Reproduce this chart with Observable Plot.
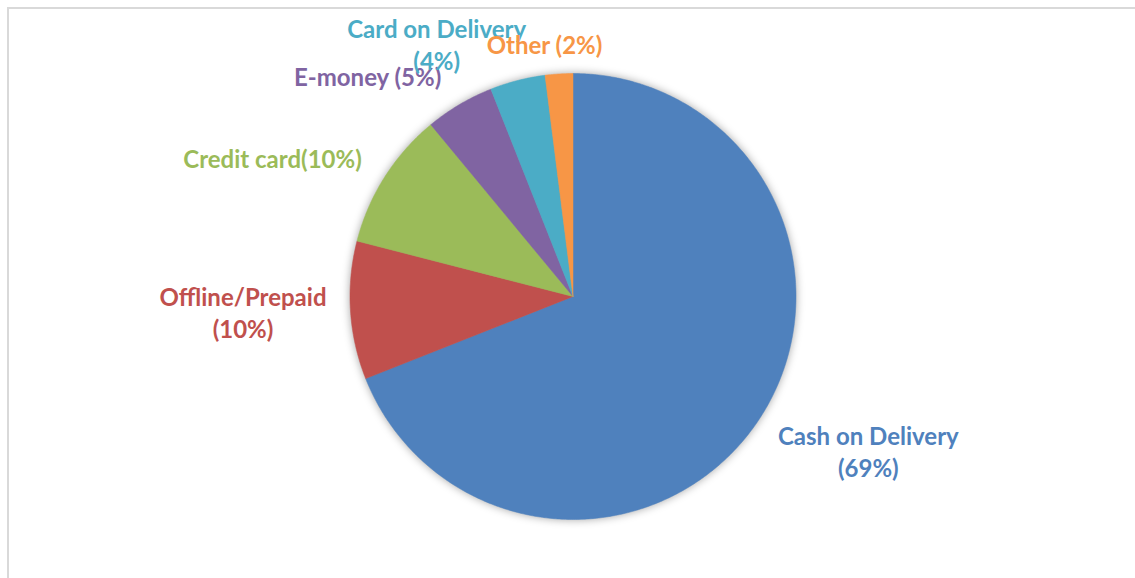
<!DOCTYPE html>
<html>
<head>
<meta charset="utf-8">
<script src="https://cdn.jsdelivr.net/npm/d3@7"></script>
<script src="https://cdn.jsdelivr.net/npm/@observablehq/plot@0.6"></script>
<style>
  html, body { margin: 0; padding: 0; background: #fff; }
  #wrap { position: relative; width: 1135px; height: 578px; overflow: hidden; }
  #border { position: absolute; left: 7px; top: 7px; width: 1140px; height: 580px;
            border-top: 2px solid #d9d9d9; border-left: 2px solid #d9d9d9; pointer-events: none; }
</style>
</head>
<body>
<div id="wrap"><div id="border"></div></div>
<script>
// ---- data ----
const categories = ["Cash on Delivery", "Offline/Prepaid", "Credit card", "E-money", "Card on Delivery", "Other"];
const shares = [69, 10, 10, 5, 4, 2];
const labelTexts = ["Cash on Delivery\n(69%)", "Offline/Prepaid\n(10%)", "Credit card(10%)", "E-money (5%)", "Card on Delivery\n(4%)", "Other (2%)"];
const colors = ["#4F81BD", "#C0504D", "#9BBB59", "#8064A2", "#4BACC6", "#F79646"];

// ---- label layout (polar: degrees clockwise from top, radius multiple) ----
const labelAngles = [118.0, 266.8, 294.35, 316.7, 331.4, 353.5];
const labelRadii = [1.50, 1.482, 1.479, 1.343, 1.277, 1.128];

// ---- geometry derived from data ----
const total = d3.sum(shares);
const slicePoints = [];
let acc = 0;
categories.forEach((c, i) => {
  const a0 = acc / total * 2 * Math.PI;
  acc += shares[i];
  const a1 = acc / total * 2 * Math.PI;
  slicePoints.push({key: c, x: 0, y: 0});
  const n = Math.max(2, Math.ceil((a1 - a0) / (Math.PI / 360)));
  for (let k = 0; k <= n; k++) {
    const a = a0 + (a1 - a0) * k / n;
    slicePoints.push({key: c, x: Math.sin(a), y: Math.cos(a)});
  }
  slicePoints.push({key: c, x: 0, y: 0});
});

const labels = categories.map((c, i) => {
  const a = labelAngles[i] * Math.PI / 180;
  return {key: c, text: labelTexts[i], x: labelRadii[i] * Math.sin(a), y: labelRadii[i] * Math.cos(a)};
});

// scale: 1 unit = pie radius (223px), centre at (572.5, 296)
const W = 1135, H = 578, R = 223, CX = 572.5, CY = 296;

const chart = Plot.plot({
  width: W,
  height: H,
  margin: 0,
  x: {domain: [-CX / R, (W - CX) / R], axis: null},
  y: {domain: [-(H - CY) / R, CY / R], axis: null},
  color: {domain: categories, range: colors},
  style: {background: "transparent", overflow: "visible"},
  marks: [
    Plot.line(slicePoints, {x: "x", y: "y", z: "key", fill: "key", stroke: "key", strokeWidth: 0.5, curve: "linear"}),
    Plot.text(labels, {
      x: "x", y: "y", text: "text", fill: "key",
      fontSize: 24, fontWeight: "bold", fontFamily: "Lato, 'Open Sans', sans-serif",
      lineHeight: 1.34, textAnchor: "middle", lineAnchor: "middle", dy: -3
    })
  ]
});
const lineG = chart.querySelector('g[aria-label="line"]');
if (lineG) lineG.setAttribute("style", "filter: drop-shadow(0px 0px 4px rgba(0,0,0,0.35));");
chart.style.position = "absolute";
chart.style.left = "0px";
chart.style.top = "0px";
document.getElementById("wrap").appendChild(chart);
</script>
</body>
</html>
